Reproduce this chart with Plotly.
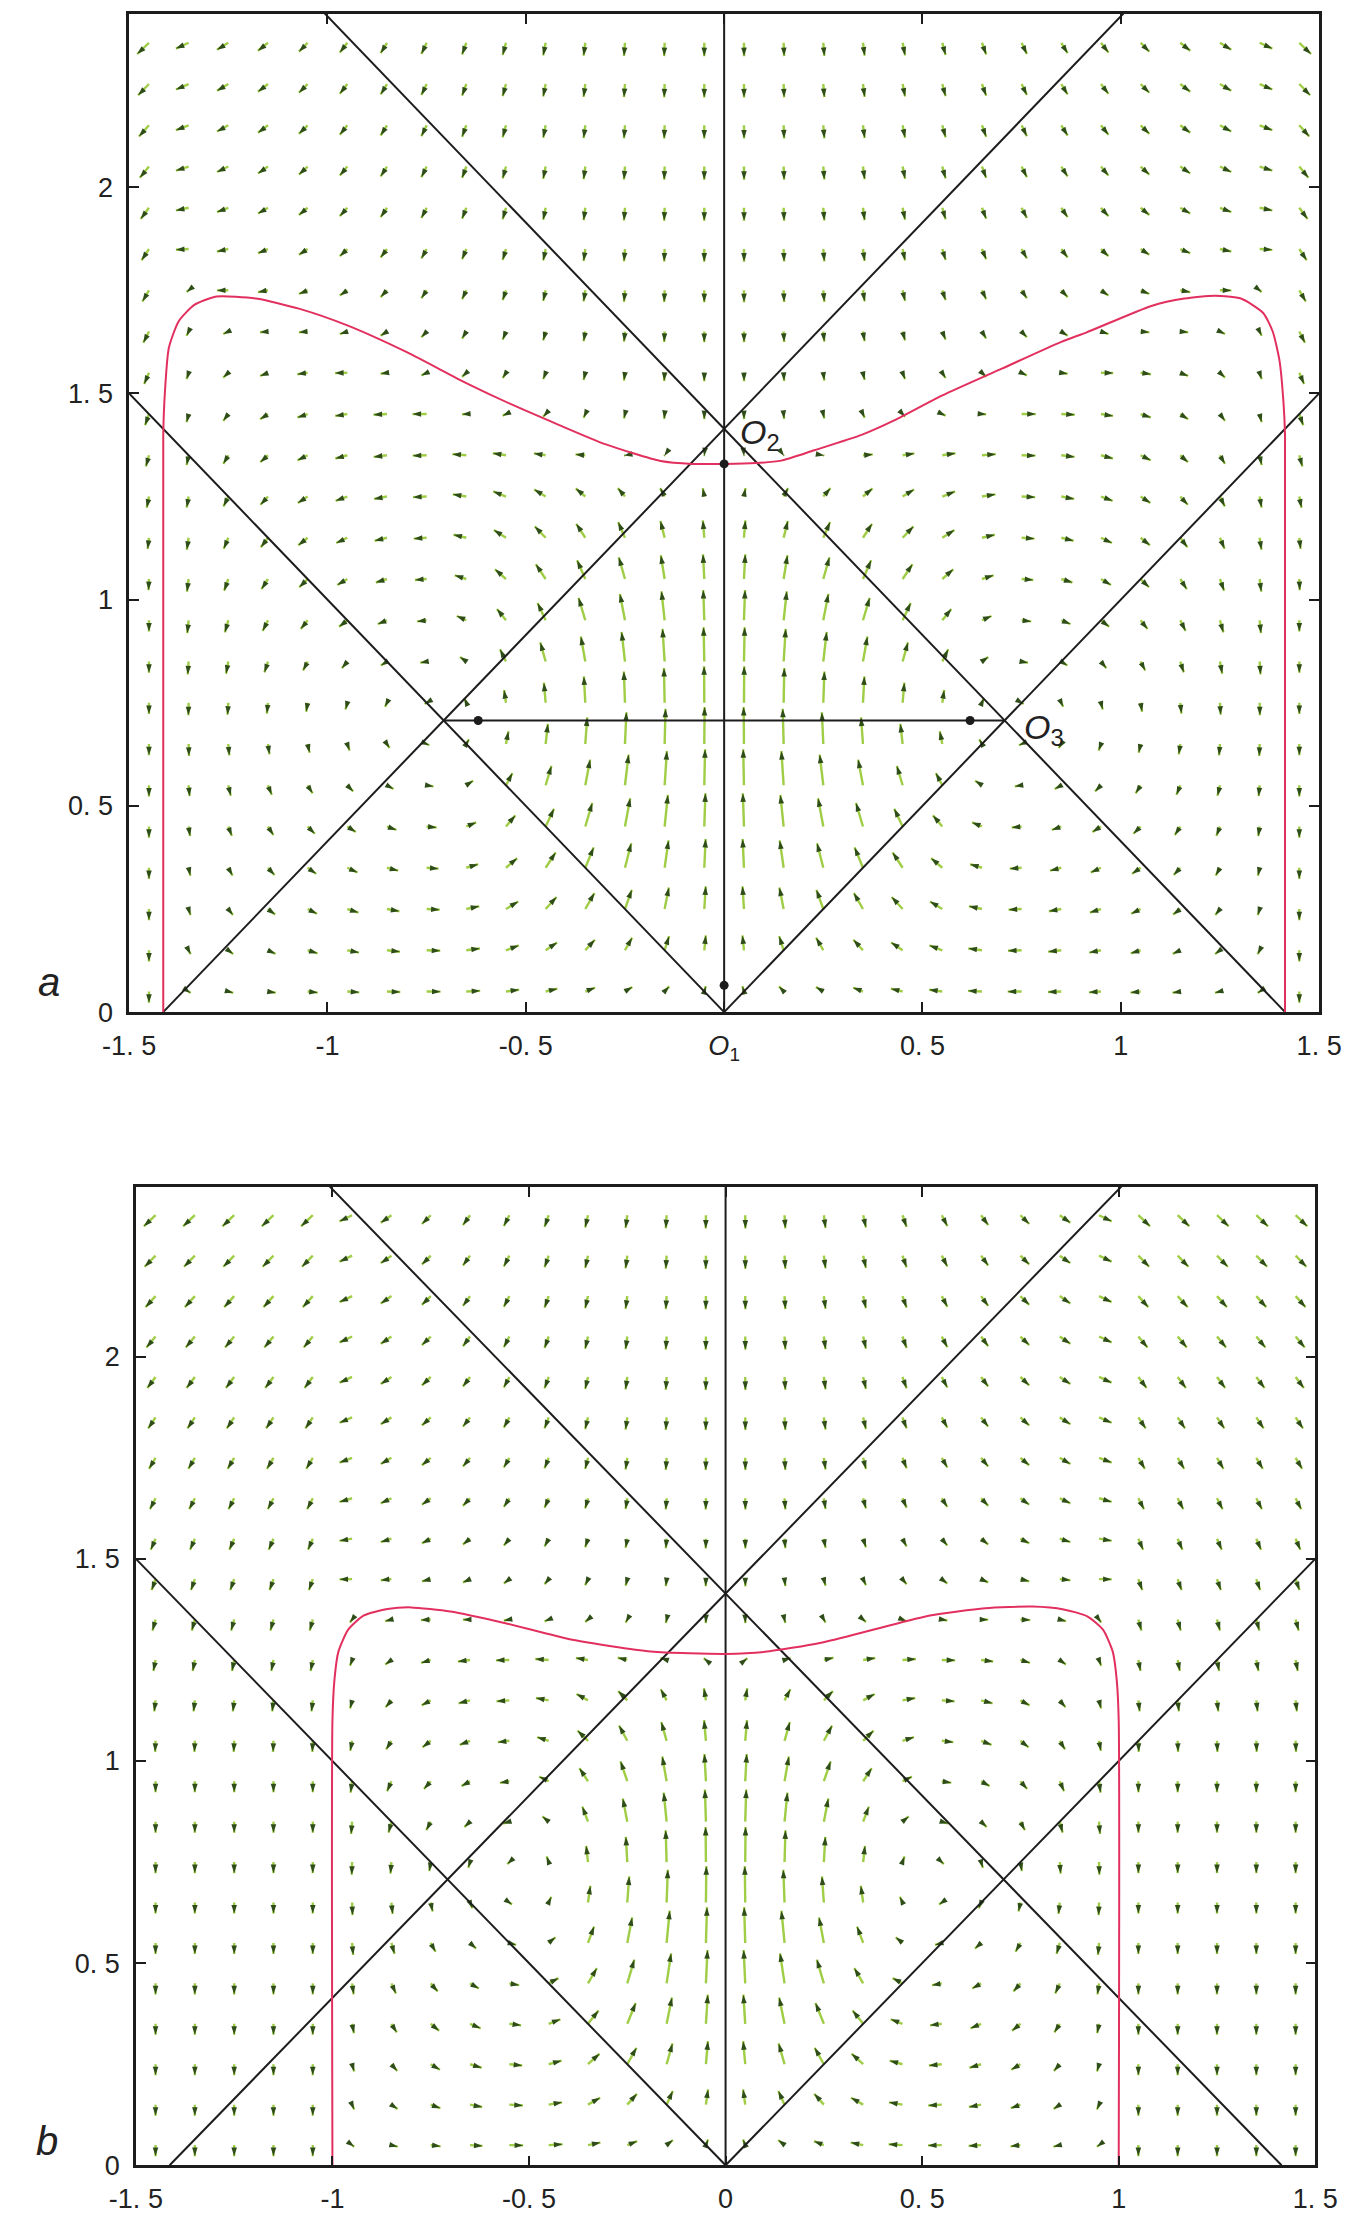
import numpy as np
import plotly.graph_objects as go

# ---------------------------------------------------------------- data
SQ2 = np.sqrt(2.0)
Y_TOP = 2.42

X_TICKS = [-1.5, -1.0, -0.5, 0.0, 0.5, 1.0, 1.5]
X_TEXT_A = ["-1. 5", "-1", "-0. 5", "<i>O</i><sub>1</sub>", "0. 5", "1", "1. 5"]
X_TEXT_B = ["-1. 5", "-1", "-0. 5", "0", "0. 5", "1", "1. 5"]
Y_TICKS = [0.0, 0.5, 1.0, 1.5, 2.0]
Y_TEXT = ["0", "0. 5", "1", "1. 5", "2"]

# invariant lines of the system (x = 0, y = +-x, y = sqrt2 +- x)
SEG_X = [[-1.5, 0.0], [0.0, 1.5], [-SQ2, 1.2], [-1.2, SQ2], [0.0, 0.0]]
SEG_Y = [[1.5, 0.0], [0.0, 1.5], [0.0, SQ2 + 1.2], [SQ2 + 1.2, 0.0], [0.0, 2.6]]
# segment joining the two O3 points (panel a only)
MID_X = [-SQ2 / 2, SQ2 / 2]
MID_Y = [SQ2 / 2, SQ2 / 2]

# marked points of panel a
DOT_X = [0.0, 0.0, -0.62, 0.62]
DOT_Y = [1.329, 0.065, 0.707, 0.707]

# trajectory, panel a
RED_A_X = [-1.414, -1.414, -1.41, -1.40, -1.375, -1.335, -1.28, -1.18, -1.07, -0.95,
           -0.80, -0.65, -0.54, -0.42, -0.30, -0.16, -0.08, 0.0, 0.08, 0.144, 0.227,
           0.348, 0.43, 0.55, 0.70, 0.85, 0.914, 1.077, 1.16, 1.237, 1.303, 1.359,
           1.383, 1.40, 1.41, 1.414, 1.414]
RED_A_Y = [0.0, 1.40, 1.50, 1.61, 1.675, 1.715, 1.735, 1.73, 1.705, 1.665,
           1.60, 1.525, 1.475, 1.425, 1.377, 1.336, 1.329, 1.329, 1.331, 1.337, 1.362,
           1.40, 1.435, 1.495, 1.56, 1.625, 1.648, 1.712, 1.73, 1.737, 1.73, 1.695,
           1.65, 1.58, 1.48, 1.40, 0.0]

# trajectory, panel b
RED_B_X = [-1.0, -1.0, -0.995, -0.985, -0.96, -0.92, -0.86, -0.80, -0.70, -0.56,
           -0.39, -0.19, 0.0, 0.10, 0.24, 0.38, 0.52, 0.66, 0.78, 0.86, 0.92, 0.96,
           0.985, 0.995, 1.0, 1.0]
RED_B_Y = [0.0, 1.10, 1.20, 1.27, 1.325, 1.36, 1.376, 1.38, 1.37, 1.341,
           1.30, 1.271, 1.265, 1.27, 1.292, 1.326, 1.36, 1.378, 1.382, 1.375, 1.358,
           1.325, 1.27, 1.20, 1.10, 0.0]

# flow-model parameters: cell half-width, trajectory height at centre / edge
PANEL_PARAMS = {
    "a": dict(half=SQ2, h0=1.329, h1=1.86),
    "b": dict(half=1.0, h0=1.265, h1=1.457),
}
U_CELL, V_CELL = 0.40, 1.00
U_TOP, V_TOP = 0.38, 0.36
U_OUT, V_OUT = 0.34, 0.30
ARROW_MAX = 0.09

# quiver grid
GX = np.round(np.arange(-1.45, 1.46, 0.1), 3)
GY = np.round(np.arange(0.05, 2.36, 0.1), 3)

# ---------------------------------------------------------------- layout
W, H = 1372, 2224
PX = {"a": (106, 1341, 14, 1019), "b": (113, 1337, 1195, 2180)}

INK = "#1c1c1c"
SHAFT = "#9fcd45"
HEAD = "#2f4d18"
RED = "#e2305e"
FONT = "Liberation Sans, Arial, sans-serif"


def flow(X, Y, half, h0, h1):
    t = X / half
    R = h0 + (h1 - h0) * t ** 2
    c = SQ2 / 2
    inside = np.abs(X) < half
    below = Y < R
    # two counter-rotating cells under the trajectory
    u_b = U_CELL * np.sin(np.pi * t) * np.tanh((Y - c) / 0.3)
    cs = np.cos(np.pi * t)
    v_b = V_CELL * cs * np.where(cs > 0, 1.0, 0.35) * 4 * Y * (R - Y) / R ** 2
    # above the trajectory: drift down and outward
    u_t = U_TOP * np.sign(X) * np.abs(t) ** 1.5
    v_t = -V_TOP * np.tanh((Y - R) / 0.3) * (1 - 0.6 * t ** 2)
    # beyond the cells
    u_o = U_OUT * np.sign(X) * np.clip((Y - 1.0) / 1.4, 0, 1)
    v_o = -V_OUT * np.ones_like(X)
    u = np.where(inside, np.where(below, u_b, u_t), u_o)
    v = np.where(inside, np.where(below, v_b, v_t), v_o)
    return u, v


fig = go.Figure()

for key, xs_name, ys_name in (("a", "x", "y"), ("b", "x2", "y2")):
    p = PANEL_PARAMS[key]
    X, Y = np.meshgrid(GX, GY)
    U, V = flow(X, Y, **p)
    mag = np.hypot(U, V)
    s = ARROW_MAX / mag.max()
    X0, Y0 = X.ravel(), Y.ravel()
    X1, Y1 = X0 + s * U.ravel(), Y0 + s * V.ravel()
    l, r, tp, bt = PX[key]
    sx = (r - l) / 3.0
    sy = (bt - tp) / Y_TOP
    sh_x, sh_y = [], []
    for a0, b0, a1, b1 in zip(X0, Y0, X1, Y1):
        sh_x += [a0, a1, None]
        sh_y += [b0, b1, None]
    ang = np.degrees(np.arctan2((X1 - X0) * sx, (Y1 - Y0) * sy))
    fig.add_trace(go.Scatter(x=sh_x, y=sh_y, mode="lines", xaxis=xs_name, yaxis=ys_name,
                             line=dict(color=SHAFT, width=2.4), hoverinfo="skip"))
    fig.add_trace(go.Scatter(x=X1, y=Y1, mode="markers", xaxis=xs_name, yaxis=ys_name,
                             marker=dict(symbol="arrow", size=9, angle=ang, color=HEAD,
                                         line=dict(width=0)), hoverinfo="skip"))

    for sxs, sys_ in zip(SEG_X, SEG_Y):
        fig.add_trace(go.Scatter(x=sxs, y=sys_, mode="lines", xaxis=xs_name, yaxis=ys_name,
                                 line=dict(color=INK, width=2), hoverinfo="skip"))
    if key == "a":
        fig.add_trace(go.Scatter(x=MID_X, y=MID_Y, mode="lines", xaxis=xs_name, yaxis=ys_name,
                                 line=dict(color=INK, width=2), hoverinfo="skip"))
        rx, ry = RED_A_X, RED_A_Y
    else:
        rx, ry = RED_B_X, RED_B_Y
    fig.add_trace(go.Scatter(x=rx, y=ry, mode="lines", xaxis=xs_name, yaxis=ys_name,
                             line=dict(color=RED, width=2, shape="spline", smoothing=0.6),
                             hoverinfo="skip"))
    if key == "a":
        fig.add_trace(go.Scatter(x=DOT_X, y=DOT_Y, mode="markers", xaxis=xs_name, yaxis=ys_name,
                                 marker=dict(color=INK, size=9), hoverinfo="skip"))

axis_common = dict(showgrid=False, zeroline=False, showline=True, linecolor=INK, linewidth=2.5,
                   mirror="ticks", ticks="inside", ticklen=10, tickwidth=2, tickcolor=INK,
                   tickfont=dict(family=FONT, size=27, color="#222222"),
                   ticklabelstandoff=8, fixedrange=True)

la, ra, ta, ba = PX["a"]
lb, rb, tb, bb = PX["b"]
fig.update_layout(
    width=W, height=H, margin=dict(l=0, r=0, t=0, b=0),
    paper_bgcolor="white", plot_bgcolor="white", showlegend=False,
    xaxis=dict(axis_common, domain=[la / W, ra / W], range=[-1.5, 1.5], anchor="y",
               tickmode="array", tickvals=X_TICKS, ticktext=X_TEXT_A),
    yaxis=dict(axis_common, domain=[1 - ba / H, 1 - ta / H], range=[0, Y_TOP], anchor="x",
               tickmode="array", tickvals=Y_TICKS, ticktext=Y_TEXT),
    xaxis2=dict(axis_common, domain=[lb / W, rb / W], range=[-1.5, 1.5], anchor="y2",
                tickmode="array", tickvals=X_TICKS, ticktext=X_TEXT_B),
    yaxis2=dict(axis_common, domain=[1 - bb / H, 1 - tb / H], range=[0, Y_TOP], anchor="x2",
                tickmode="array", tickvals=Y_TICKS, ticktext=Y_TEXT),
)

label_font = dict(family=FONT, size=34, color="#222222")
fig.add_annotation(x=0.035, y=1.40, xref="x", yref="y", text="<i>O</i><sub>2</sub>",
                   showarrow=False, xanchor="left", yanchor="middle", font=label_font)
fig.add_annotation(x=0.752, y=0.685, xref="x", yref="y", text="<i>O</i><sub>3</sub>",
                   showarrow=False, xanchor="left", yanchor="middle", font=label_font)
panel_font = dict(family=FONT, size=40, color="#222222")
fig.add_annotation(x=23 / W, y=1 - 989 / H, xref="paper", yref="paper", text="<i>a</i>",
                   showarrow=False, xanchor="center", yanchor="middle", font=panel_font)
fig.add_annotation(x=21 / W, y=1 - 2156 / H, xref="paper", yref="paper", text="<i>b</i>",
                   showarrow=False, xanchor="center", yanchor="middle", font=panel_font)

fig.write_html("out.html")
